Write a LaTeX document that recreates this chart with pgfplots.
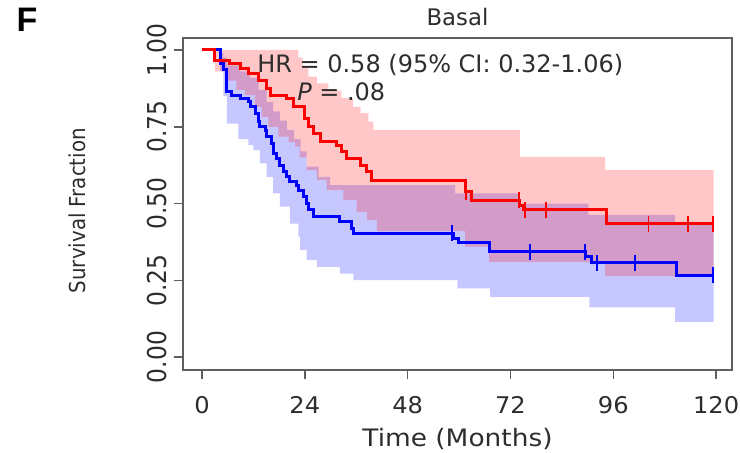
\documentclass[border=0pt]{standalone}
\usepackage{fontspec}
\setmainfont{DejaVu Sans}
\newfontfamily\condfont{DejaVu Sans Condensed}
\newfontfamily\labfont{Liberation Sans}
\usepackage{pgfplots}
\pgfplotsset{compat=1.18}
\usepgfplotslibrary{fillbetween}

\definecolor{axgray}{RGB}{95,95,95}
\definecolor{txtgray}{RGB}{45,45,45}

\begin{document}
\begin{tikzpicture}
\begin{axis}[
    scale only axis,
    width=274.5pt, height=166pt,
    xmin=-4.44, xmax=123.7,
    ymin=-0.042, ymax=1.039,
    xtick={0,24,48,72,96,120},
    ytick={0,0.25,0.5,0.75,1},
    axis line style={axgray, line width=0.8pt},
    tick style={axgray, line width=0.8pt},
    tick align=outside, tick pos=left,
    major tick length=4.5pt,
    clip=false,
    /pgf/number format/assume math mode=true,
    xticklabel style={font=\fontsize{11.5}{12}\selectfont, text=txtgray, yshift=-5pt, xscale=1.05},
    yticklabel style={font=\condfont\fontsize{13}{14}\selectfont, text=txtgray,
        rotate=90, anchor=south,
        /pgf/number format/fixed, /pgf/number format/precision=2,
        /pgf/number format/fixed zerofill},
    xlabel={Time (Months)},
    xlabel style={font=\fontsize{12}{13}\selectfont, text=txtgray, xscale=1.1,
        at={(axis description cs:0.5,-0.208)}, anchor=center},
    ylabel={Survival Fraction},
    ylabel style={font=\condfont\fontsize{11}{12}\selectfont, text=txtgray,
        at={(axis description cs:-0.193,0.48)}, anchor=center},
]
% confidence bands
\addplot[name path=bu, draw=none, const plot, forget plot] coordinates {
 (0,1.0) (4.2,0.99) (5.0,0.975) (5.8,0.95) (8.9,0.93) (11.2,0.91) (13.2,0.87)
 (15.1,0.83) (16.6,0.80) (18.2,0.77) (19.8,0.74) (21.5,0.71) (23.0,0.67)
 (24.4,0.62) (27.2,0.587) (29.9,0.56) (59.1,0.533) (74.2,0.50) (90.2,0.463)
 (110.4,0.43) (119.4,0.43)
};
\addplot[name path=bl, draw=none, const plot, forget plot] coordinates {
 (0,1.0) (4.2,0.93) (5.0,0.85) (5.8,0.76) (8.5,0.71) (10.8,0.69) (12.0,0.674)
 (13.5,0.631) (15.1,0.587) (16.6,0.533) (18.2,0.49) (20.5,0.435) (22.5,0.392)
 (22.9,0.349) (24.4,0.316) (26.8,0.294) (32.2,0.272) (35.3,0.251) (59.6,0.224)
 (67.2,0.196) (90.4,0.162) (110.4,0.115) (119.4,0.115)
};
\addplot[name path=ru, draw=none, const plot, forget plot] coordinates {
 (0,1.0) (22.5,0.975) (23.5,0.946) (24.8,0.913) (26.8,0.891) (29.5,0.868)
 (32.5,0.843) (35.2,0.815) (37.0,0.794) (38.8,0.767) (40.0,0.739) (74.2,0.652)
 (94.1,0.609) (119.4,0.609)
};
\addplot[name path=rl, draw=none, const plot, forget plot] coordinates {
 (0,1.0) (3.0,0.93) (6.1,0.90) (8.0,0.87) (10.0,0.853) (12.4,0.815) (13.9,0.782)
 (15.5,0.75) (17.8,0.718) (20.2,0.70) (21.7,0.685) (22.8,0.65) (24.4,0.609)
 (26.8,0.577) (29.1,0.544) (33.0,0.511) (36.1,0.473) (38.5,0.446) (40.8,0.41)
 (61.4,0.36) (67.0,0.31) (94.1,0.264) (119.4,0.264)
};
\addplot[blue, fill opacity=0.22, draw=none] fill between[of=bu and bl];
\addplot[red, fill opacity=0.22, draw=none] fill between[of=ru and rl];

% survival curves
\addplot[blue, line width=1.5pt, const plot] coordinates {
 (0,1.0) (4.2,0.957) (5.0,0.935) (5.8,0.864) (6.9,0.853) (8.9,0.843) (10.8,0.832)
 (11.2,0.815) (12.4,0.794) (13.2,0.767) (13.5,0.75) (14.7,0.739) (15.1,0.718)
 (16.3,0.696) (16.6,0.663) (17.4,0.647) (18.2,0.625) (19.0,0.604) (19.8,0.587)
 (20.5,0.571) (22.1,0.560) (22.5,0.544) (23.6,0.522) (24.4,0.501) (24.8,0.479)
 (26.0,0.457) (32.2,0.441) (35.0,0.419) (35.3,0.403) (58.6,0.386) (59.9,0.372)
 (67.2,0.343) (89.4,0.327) (91.0,0.307) (110.8,0.267) (119.4,0.267)
};
\addplot[red, line width=1.5pt, const plot] coordinates {
 (0,1.0) (3.0,0.967) (6.5,0.957) (8.9,0.940) (10.8,0.924) (13.2,0.902)
 (15.1,0.875) (15.9,0.853) (19.8,0.843) (21.3,0.815) (24.0,0.777) (24.8,0.750)
 (26.0,0.729) (27.6,0.701) (31.4,0.690) (32.6,0.669) (33.8,0.647) (36.9,0.625)
 (38.5,0.604) (39.6,0.574) (61.4,0.539) (63.0,0.511) (74.2,0.495) (75.0,0.479)
 (94.5,0.435) (119.4,0.435)
};
% censored observations
\addplot[blue, only marks, mark=|, mark size=4pt, mark options={line width=0.9pt}] coordinates {
 (58.3,0.403) (76.6,0.343) (89.4,0.343) (92.1,0.307) (101.1,0.307) (119.2,0.267)
};
\addplot[red, only marks, mark=|, mark size=4pt, mark options={line width=0.9pt}] coordinates {
 (61.6,0.539) (74.0,0.511) (75.3,0.479) (80.3,0.479) (104.2,0.435) (113.5,0.435) (119.2,0.435)
};

\node[font=\fontsize{12}{13}\selectfont, text=txtgray] at (axis cs:55.6,0.951)
  {HR = 0.58 (95\% CI: 0.32-1.06)};
\node[font=\fontsize{12}{13}\selectfont, text=txtgray] at (axis cs:32.5,0.863)
  {\textit{P} = .08};
\node[font=\fontsize{11.4}{12}\selectfont, text=txtgray] at (axis description cs:0.5,1.063) {Basal};
\node[font=\labfont\bfseries\fontsize{17}{18}\selectfont] at (axis description cs:-0.284,1.054) {F};
\end{axis}
\pgfresetboundingbox
\path (current axis.south west) ++(-91.5pt,-41pt) rectangle ++(370pt,226pt);
\end{tikzpicture}
\end{document}
